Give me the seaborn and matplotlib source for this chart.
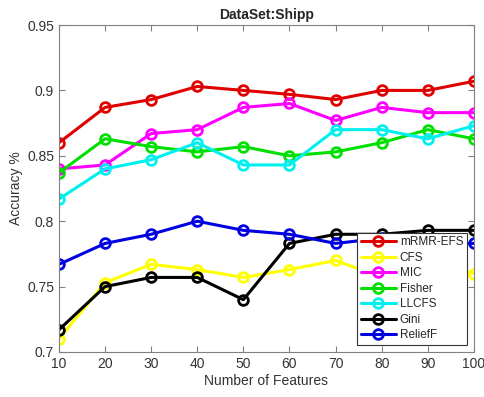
import numpy as np
import pandas as pd
import matplotlib
matplotlib.use("Agg")
import matplotlib.pyplot as plt
import seaborn as sns

features = [10, 20, 30, 40, 50, 60, 70, 80, 90, 100]
mrmr_efs = [0.860, 0.887, 0.893, 0.903, 0.900, 0.897, 0.893, 0.900, 0.900, 0.907]
cfs      = [0.710, 0.753, 0.767, 0.763, 0.757, 0.763, 0.770, 0.757, 0.770, 0.760]
mic      = [0.840, 0.843, 0.867, 0.870, 0.887, 0.890, 0.877, 0.887, 0.883, 0.883]
fisher   = [0.837, 0.863, 0.857, 0.853, 0.857, 0.850, 0.853, 0.860, 0.870, 0.863]
llcfs    = [0.817, 0.840, 0.847, 0.860, 0.843, 0.843, 0.870, 0.870, 0.863, 0.873]
gini     = [0.717, 0.750, 0.757, 0.757, 0.740, 0.783, 0.790, 0.790, 0.793, 0.793]
relieff  = [0.767, 0.783, 0.790, 0.800, 0.793, 0.790, 0.783, 0.787, 0.783, 0.783]

series_names = ["mRMR-EFS", "CFS", "MIC", "Fisher", "LLCFS", "Gini", "ReliefF"]
series_vals = [mrmr_efs, cfs, mic, fisher, llcfs, gini, relieff]
colors = ["#e00000", "#ffff00", "#ff00ff", "#00e000", "#00f0f0", "#000000", "#0000e0"]

sns.set_style("white")
plt.rcParams['font.family'] = ['Liberation Sans', 'DejaVu Sans']

fig = plt.figure(figsize=(4.85, 3.97), dpi=100)
ax = fig.add_axes([0.1216, 0.1134, 0.8554, 0.8236])

for name, vals, c in zip(series_names, series_vals, colors):
    sns.lineplot(x=features, y=vals, ax=ax, color=c, label=name,
                 marker='o', markersize=7, markerfacecolor='none',
                 markeredgecolor=c, markeredgewidth=2, linewidth=2.2)

ax.set_xlim(10, 100)
ax.set_ylim(0.7, 0.95)
ax.set_xticks(features)
ax.set_xticklabels([str(f) for f in features])
ax.set_yticks([0.7, 0.75, 0.8, 0.85, 0.9, 0.95])
ax.set_yticklabels(["0.7", "0.75", "0.8", "0.85", "0.9", "0.95"])
ax.tick_params(direction='in', length=4, width=0.8, colors='#808080',
               labelcolor='#333333', labelsize=10, top=True, right=True,
               bottom=True, left=True)
for s in ax.spines.values():
    s.set_visible(True)
    s.set_color('#808080')
    s.set_linewidth(0.8)

ax.set_xlabel("Number of Features", fontsize=10, color='#333333', labelpad=2)
ax.set_ylabel("Accuracy %", fontsize=10, color='#333333', labelpad=3)
ax.set_title("DataSet:Shipp", fontsize=10, fontweight='bold', pad=4)

leg = ax.legend(loc='lower right', fontsize=8.5, frameon=True, fancybox=False,
                handlelength=3.0, labelspacing=0.3, borderpad=0.3,
                borderaxespad=0.6, handletextpad=0.3, framealpha=1)
leg.get_frame().set_edgecolor('#333333')
leg.get_frame().set_linewidth(0.8)

fig.savefig("out.png", dpi=100)
